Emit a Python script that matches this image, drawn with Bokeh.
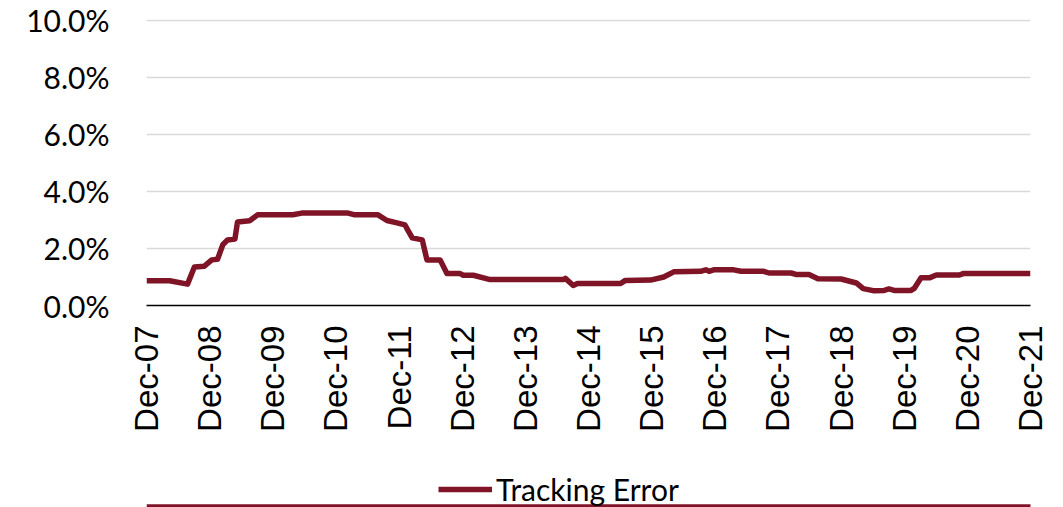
import math
from bokeh.plotting import figure
from bokeh.layouts import column
from bokeh.models import (FixedTicker, NumeralTickFormatter, Legend, LegendItem,
                          ColumnDataSource, Range1d)
from bokeh.embed import file_html
from bokeh.resources import INLINE

# months since Dec-2007
months = [0, 4.4, 7.8, 9.1, 11.0, 12.4, 13.5, 14.5, 15.4, 16.8, 17.3, 19.6, 21.1,
          27.8, 29.5, 38.3, 39.6, 44.0, 45.7, 47.6, 49.1, 50.5, 52.4, 53.3, 55.8,
          57.1, 59.6, 60.2, 62.1, 65.3, 79.2, 79.6, 81.1, 81.9, 90.1, 91.0, 95.8,
          98.3, 100.2, 105.3, 106.3, 106.9, 107.8, 111.6, 113.0, 117.3, 118.3,
          122.5, 123.4, 125.9, 127.6, 132.0, 134.9, 136.2, 138.1, 140.2, 141.1,
          142.1, 145.3, 145.9, 147.2, 148.8, 150.1, 154.5, 155.2, 168.0]
# tracking error, %
tracking_error = [0.87, 0.87, 0.75, 1.35, 1.38, 1.60, 1.62, 2.13, 2.30, 2.33, 2.93, 2.97, 3.18,
                  3.18, 3.24, 3.24, 3.18, 3.18, 2.98, 2.90, 2.83, 2.37, 2.30, 1.60, 1.60,
                  1.12, 1.12, 1.06, 1.06, 0.91, 0.91, 0.95, 0.70, 0.77, 0.77, 0.88, 0.89,
                  1.00, 1.18, 1.20, 1.25, 1.20, 1.25, 1.25, 1.20, 1.20, 1.14,
                  1.14, 1.09, 1.09, 0.94, 0.93, 0.79, 0.59, 0.52, 0.53, 0.58,
                  0.53, 0.53, 0.60, 0.97, 0.97, 1.07, 1.07, 1.12, 1.12]
tick_months = [0, 12, 24, 36, 48, 60, 72, 84, 96, 108, 120, 132, 144, 156, 168]
tick_labels = ["Dec-07", "Dec-08", "Dec-09", "Dec-10", "Dec-11", "Dec-12", "Dec-13",
               "Dec-14", "Dec-15", "Dec-16", "Dec-17", "Dec-18", "Dec-19", "Dec-20", "Dec-21"]
y_ticks = [0.0, 0.02, 0.04, 0.06, 0.08, 0.10]
series_name = "Tracking Error"
line_color = "#7F1427"

src = ColumnDataSource(dict(x=months, y=[v / 100 for v in tracking_error]))

p = figure(width=1060, height=457, frame_width=884, frame_height=286,
           output_backend="svg", toolbar_location=None,
           x_range=(0, 168), y_range=(0, 0.1003),
           min_border_left=146, min_border_right=30, min_border_top=19, min_border_bottom=152)
p.outline_line_color = None
p.background_fill_color = "white"
p.border_fill_color = "white"

r = p.line("x", "y", source=src, line_color=line_color, line_width=5.5, line_join="round")

# x axis
xa = p.xaxis[0]
xa.ticker = FixedTicker(ticks=tick_months)
xa.major_label_overrides = {t: l for t, l in zip(tick_months, tick_labels)}
xa.major_label_orientation = math.pi / 2
xa.major_label_text_font = "Liberation Sans"
xa.major_label_text_font_size = "33px"
xa.major_label_text_color = "#000000"
xa.major_label_standoff = 14
xa.major_tick_line_color = None
xa.minor_tick_line_color = None
xa.axis_line_color = "#000000"
xa.axis_line_width = 1.5

# y axis
ya = p.yaxis[0]
ya.ticker = FixedTicker(ticks=y_ticks)
ya.formatter = NumeralTickFormatter(format="0.0%")
ya.major_label_text_font = "Lato"
ya.major_label_text_font_size = "30px"
ya.major_label_text_color = "#000000"
ya.major_label_standoff = 31
ya.major_tick_line_color = None
ya.minor_tick_line_color = None
ya.axis_line_color = None

p.xgrid.grid_line_color = None
p.ygrid.ticker = FixedTicker(ticks=y_ticks)
p.ygrid.grid_line_color = "#D9D9D9"
p.ygrid.grid_line_width = 1.5

# legend strip below the chart (same series, drawn outside the strip's visible range)
q = figure(width=1060, height=50, output_backend="svg", toolbar_location=None,
           x_range=Range1d(0, 1), y_range=Range1d(0, 1),
           x_axis_type=None, y_axis_type=None, min_border=0)
q.outline_line_color = None
q.grid.visible = False
q.border_fill_color = "white"
q.background_fill_color = "white"
r2 = q.line("x", "y", source=src, line_color=line_color, line_width=5.5)

legend = Legend(items=[LegendItem(label=series_name, renderers=[r2])],
                location=(292, 0), orientation="horizontal",
                label_text_font="Lato", label_text_font_size="30px", label_text_color="#000000",
                glyph_width=54, glyph_height=36, label_height=36, label_standoff=4,
                border_line_color=None, background_fill_alpha=0,
                margin=0, padding=0)
q.add_layout(legend, "center")

layout = column(p, q, spacing=0)
open("out.html", "w").write(file_html(layout, INLINE))
